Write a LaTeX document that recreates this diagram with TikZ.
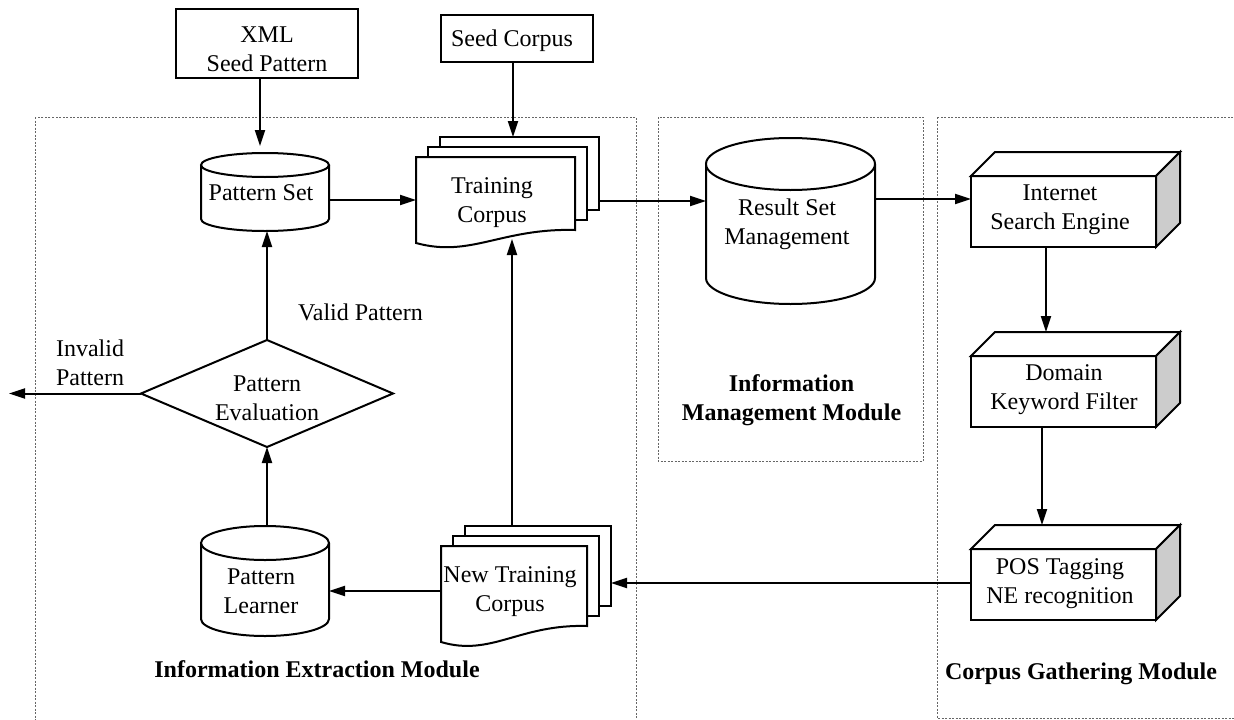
\documentclass[tikz,border=0pt]{standalone}
\usepackage{fontspec}
\setmainfont{Liberation Serif}
\usetikzlibrary{arrows.meta,calc}
\newcommand\dbcyl[6]{%
 \pgfmathsetmacro\cmx{(#2+#4)/2}%
 \pgfmathsetmacro\cmy{(#3+#5)/2}%
 \pgfmathsetmacro\crx{(#4-#2)/2}%
 \pgfmathsetmacro\cw{#4-#2}%
 \pgfmathsetmacro\ch{#5-#3}%
 \pgfmathsetmacro\ctop{#3+#6}%
 \pgfmathsetmacro\cbot{#5-#6}%
 \pgfmathsetmacro\cky{0.5523*#6}%
 \pgfmathsetmacro\ckx{0.5523*\crx}%
 \node[minimum width=\cw pt, minimum height=\ch pt] (#1) at (\cmx,\cmy) {};
 \draw[shp] (#2,\ctop) -- (#2,\cbot) .. controls (#2,\cbot+\cky) and (\cmx-\ckx,#5) .. (\cmx,#5) .. controls (\cmx+\ckx,#5) and (#4,\cbot+\cky) .. (#4,\cbot) -- (#4,\ctop);
 \draw[shp] (\cmx,\ctop) ellipse [x radius=\crx, y radius=#6];
}
\newcommand\cubebox[5]{%
 \pgfmathsetmacro\bw{#4-#2}%
 \pgfmathsetmacro\bh{#5-#3}%
 \node[draw, shp, minimum width=\bw pt, minimum height=\bh pt] (#1) at ({(#2+#4)/2},{(#3+#5)/2}) {};
 \draw[shp] (#1.north west) -- ++(24,-24) -- ([shift={(24,-24)}]#1.north east) -- (#1.north east) -- cycle;
 \draw[shp, fill=black!20] (#1.north east) -- ++(24,-24) -- ([shift={(24,-24)}]#1.south east) -- (#1.south east) -- cycle;
}
\newcommand\docstack[6]{% name x1 y1 x2 yL yR
 \pgfmathsetmacro\dw{#4-#2}%
 \pgfmathsetmacro\dh{#6-#3}%
 \pgfmathsetmacro\dH{#5-#3}%
 \node[draw, shp, minimum width=\dw pt, minimum height=\dh pt] (#1-3) at ({(#2+#4)/2+24},{(#3+#6)/2-20}) {};
 \node[draw, shp, minimum width=\dw pt, minimum height=\dh pt] (#1-2) at ({(#2+#4)/2+12},{(#3+#6)/2-10}) {};
 \node[minimum width=\dw pt, minimum height=\dH pt] (#1) at ({(#2+#4)/2},{(#3+#5)/2}) {};
 \draw[shp] (#2,#3) -- (#4,#3) -- (#4,#6) .. controls ({#2+0.535*\dw},{#6-2}) and ({#2+0.344*\dw},{#5+15}) .. (#2,#5) -- cycle;
}
\begin{document}
\begin{tikzpicture}[x=1pt,y=-1pt,
  every node/.style={inner sep=0pt, outer sep=0pt},
  txt/.style={font=\fontsize{24}{29}\selectfont, align=center, anchor=base},
  ttl/.style={font=\fontsize{24}{29}\selectfont\bfseries, align=center, anchor=base},
  shp/.style={line width=2pt, fill=white},
  arr/.style={line width=2pt, -{Triangle[length=16pt,width=10pt]}},
  module/.style={draw=black!60, line width=0.9pt, dash pattern=on 2pt off 1.5pt},
  ]
\useasboundingbox (0,0) rectangle (1234,720);
\clip (0,0) rectangle (1234,720);

% module frames
\draw[module] (35,117) rectangle (636,726);
\draw[module] (658,117) rectangle (923,461);
\draw[module] (937,117) rectangle (1240,718);

% top boxes
\node[draw, shp, minimum width=182pt, minimum height=69pt] (xml) at (267,43.5) {};
\node[txt] (xmlt) at (267,71) {XML\\Seed Pattern};
\node[draw, shp, minimum width=152pt, minimum height=47pt] (seed) at (517,38.5) {};
\node[txt] (seedt) at (512,46.7) {Seed Corpus};

% cylinders
\dbcyl{ps}{201}{153}{329}{231}{12}
\node[txt] (pst) at (261,200.7) {Pattern Set};
\dbcyl{rs}{706}{138}{875}{304}{26}
\node[txt] (rst) at (787,244) {Result Set\\Management};
\dbcyl{pl}{201}{526}{329}{636}{17}
\node[txt] (plt) at (261,613) {Pattern\\Learner};

% document stacks
\docstack{tc}{416}{157}{575}{243}{230}
\node[txt] (tct) at (492,222.7) {Training\\Corpus};
\docstack{ntc}{441}{546}{587}{642}{626}
\node[txt] (ntct) at (510,611.7) {New Training\\Corpus};

% 3D boxes
\cubebox{ise}{971}{176}{1156}{247}
\node[txt] (iset) at (1060,229) {Internet\\Search Engine};
\cubebox{dom}{971}{356}{1156}{427}
\node[txt] (domt) at (1064,409) {Domain\\Keyword Filter};
\cubebox{pos}{971}{549}{1156}{620}
\node[txt] (post) at (1060,603) {POS Tagging\\NE recognition};

% diamond
\node[minimum width=252pt, minimum height=107pt] (pe) at (267,393.5) {};
\draw[shp] (pe.north) -- (pe.east) -- (pe.south) -- (pe.west) -- cycle;
\node[txt] (pet) at (267,420) {Pattern\\Evaluation};

% labels
\node[txt] (valid) at (360.5,320.7) {Valid Pattern};
\node[txt] (invalid) at (90,385) {Invalid\\Pattern};
\node[ttl] (iem) at (317,677) {Information Extraction Module};
\node[ttl] (imm) at (791.5,420) {Information\\Management Module};
\node[ttl] (cgm) at (1081,679) {Corpus Gathering Module};

% helper coordinates
\coordinate (tcout) at ([yshift=-27.5pt]tc-3.east);
\coordinate (rsout) at ([yshift=22pt]rs.east);
\coordinate (c1) at ([xshift=-17.5pt]ise.south);
\coordinate (dtop) at ([yshift=24pt]dom.north);
\coordinate (c2) at ([xshift=-21.5pt]dom.south);
\coordinate (ptop) at ([yshift=24pt]pos.north);
\coordinate (posout) at ([yshift=1.5pt]pos.west);
\coordinate (ntcout) at ([yshift=3pt]ntc.west);
\coordinate (ntcup) at ([xshift=-26pt]ntc-3.north);
\coordinate (tcb) at (512,239);
\coordinate (inv) at (9,393.5);

% connectors
\draw[arr] ([xshift=-7pt]xml.south) -- ([xshift=-5pt,yshift=7pt]ps.north);
\draw[arr] ([xshift=-4pt]seed.south) -- ([xshift=-6.5pt]tc-3.north);
\draw[arr] ([yshift=-8pt]ps.east) -- (tc.west);
\draw[arr] (tcout) -- (tcout -| rs.west);
\draw[arr] (rsout) -- (rsout -| ise.west);
\draw[arr] (c1) -- (c1 |- dtop);
\draw[arr] (c2) -- (c2 |- ptop);
\draw[arr] (posout) -- (posout -| ntc-3.east);
\draw[arr] (ntcout) -- (ntcout -| pl.east);
\draw[arr] (pl.north -| pe.south) -- (pe.south);
\draw[arr] (pe.north) -- (pe.north |- ps.south);
\draw[arr] (pe.west) -- (inv);
\draw[arr] (ntcup) -- (ntcup |- tcb);
\end{tikzpicture}
\end{document}
